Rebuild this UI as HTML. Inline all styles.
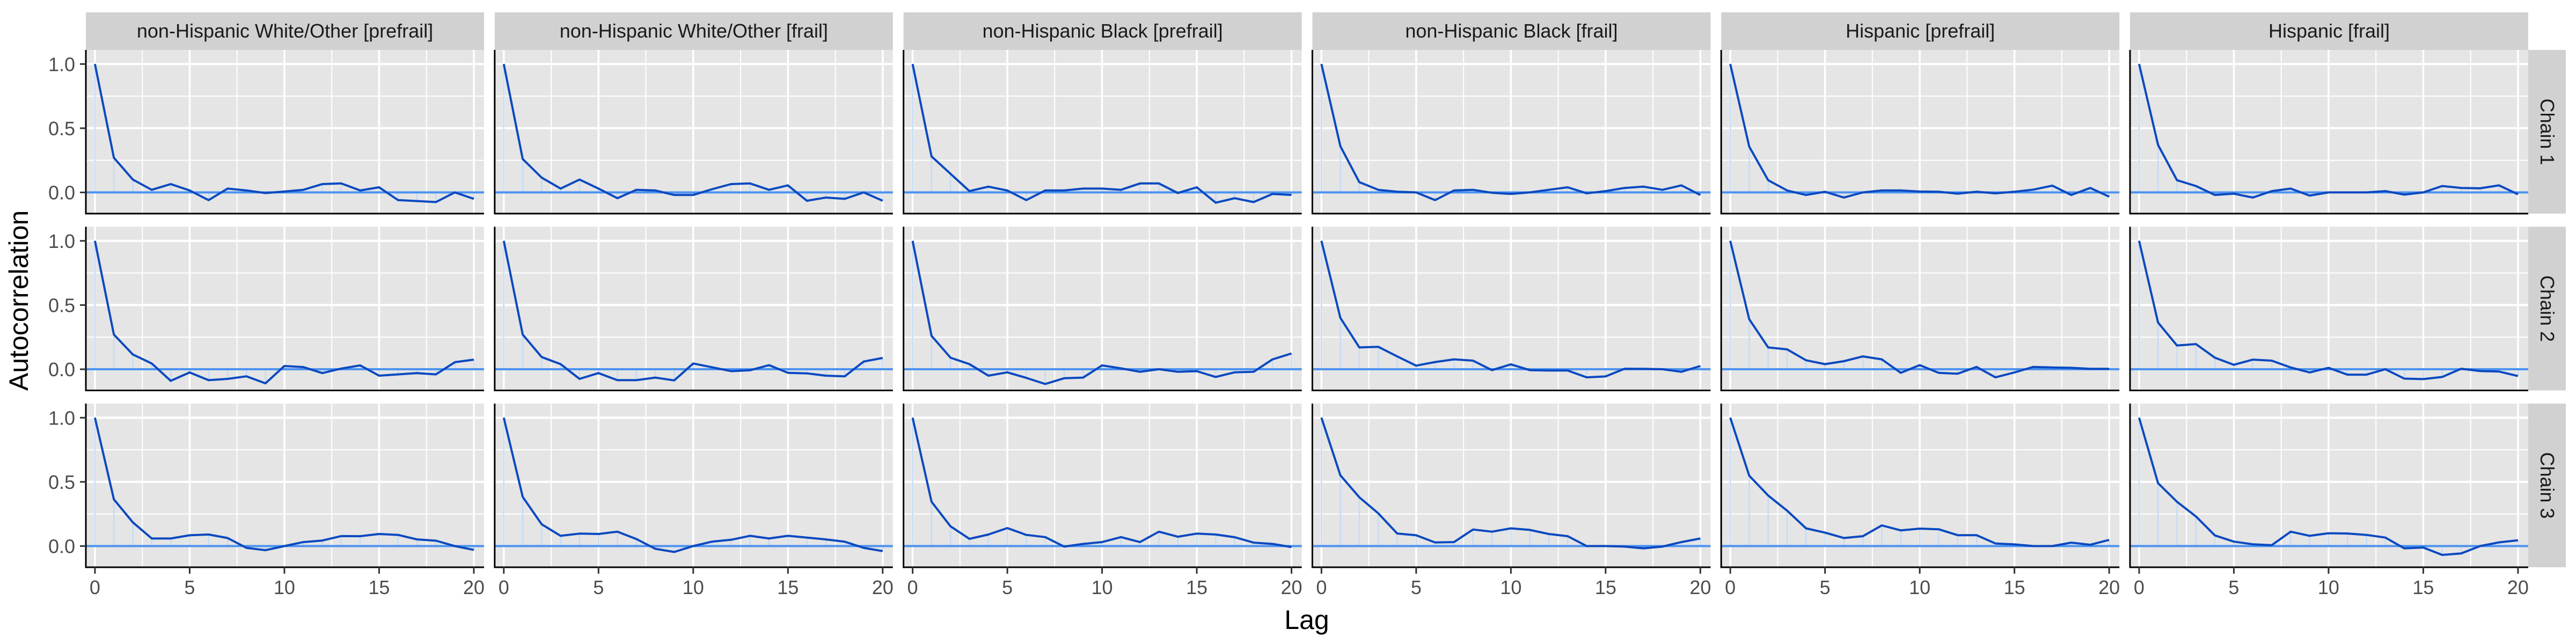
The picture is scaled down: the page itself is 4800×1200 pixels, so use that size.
<!DOCTYPE html>
<html><head><meta charset="utf-8">
<style>
html,body{margin:0;padding:0;background:#fff;}
svg{display:block;font-family:"Liberation Sans",sans-serif;}
</style></head>
<body>
<svg id="chart" width="4800" height="1200" viewBox="0 0 4800 1200" xmlns="http://www.w3.org/2000/svg">
<text x="0" y="0" transform="translate(52,560) rotate(-90)" text-anchor="middle" font-size="50" fill="#000">Autocorrelation</text>
<text x="2435" y="1172" text-anchor="middle" font-size="50" fill="#000">Lag</text>
</svg>
<script>
const colLabels = ["non-Hispanic White/Other [prefrail]","non-Hispanic White/Other [frail]","non-Hispanic Black [prefrail]","non-Hispanic Black [frail]","Hispanic [prefrail]","Hispanic [frail]"];
const rowLabels = ["Chain 1","Chain 2","Chain 3"];
const lags = [0,1,2,3,4,5,6,7,8,9,10,11,12,13,14,15,16,17,18,19,20];
const xTicks = [0,5,10,15,20];
const yTicks = [0,0.5,1.0];
const yTickLabels = ["0.0","0.5","1.0"];

const chain1 = [
 [1,0.27,0.10,0.02,0.065,0.015,-0.06,0.03,0.015,-0.005,0.007,0.02,0.065,0.07,0.015,0.04,-0.06,-0.067,-0.075,0.0,-0.05],
 [1,0.26,0.115,0.03,0.10,0.03,-0.045,0.02,0.015,-0.02,-0.02,0.025,0.065,0.07,0.02,0.055,-0.065,-0.04,-0.05,0,-0.065],
 [1,0.28,0.145,0.01,0.045,0.015,-0.06,0.015,0.015,0.03,0.03,0.02,0.07,0.07,-0.005,0.04,-0.08,-0.045,-0.075,-0.012,-0.02],
 [1,0.36,0.08,0.02,0.005,0,-0.06,0.015,0.02,-0.003,-0.012,0,0.02,0.04,-0.007,0.01,0.035,0.045,0.02,0.055,-0.02],
 [1,0.357,0.095,0.015,-0.02,0.005,-0.04,0,0.015,0.015,0.007,0.005,-0.01,0.005,-0.007,0.005,0.022,0.053,-0.02,0.035,-0.033],
 [1,0.37,0.095,0.05,-0.02,-0.01,-0.04,0.01,0.03,-0.025,0,0,0,0.01,-0.017,0,0.05,0.035,0.032,0.055,-0.015]
];
const chain2 = [
 [1,0.27,0.115,0.045,-0.09,-0.025,-0.085,-0.075,-0.055,-0.11,0.025,0.017,-0.03,0.005,0.03,-0.05,-0.04,-0.03,-0.04,0.055,0.075],
 [1,0.27,0.095,0.04,-0.075,-0.03,-0.085,-0.085,-0.065,-0.087,0.045,0.015,-0.015,-0.008,0.032,-0.028,-0.032,-0.05,-0.055,0.06,0.088],
 [1,0.26,0.09,0.04,-0.05,-0.024,-0.067,-0.115,-0.07,-0.065,0.03,0.007,-0.02,0,-0.02,-0.015,-0.06,-0.024,-0.02,0.077,0.123],
 [1,0.40,0.17,0.175,0.10,0.028,0.056,0.077,0.067,-0.007,0.038,-0.007,-0.01,-0.01,-0.063,-0.056,0.004,0.003,0,-0.02,0.025],
 [1,0.39,0.17,0.155,0.07,0.04,0.063,0.10,0.077,-0.028,0.032,-0.028,-0.035,0.018,-0.063,-0.025,0.018,0.014,0.011,0.003,0.003],
 [1,0.364,0.185,0.196,0.09,0.035,0.075,0.067,0.014,-0.025,0.011,-0.042,-0.042,0,-0.073,-0.077,-0.06,0.004,-0.014,-0.018,-0.053]
];
const chain3 = [
 [1,0.364,0.185,0.059,0.059,0.084,0.09,0.063,-0.014,-0.032,0,0.031,0.043,0.078,0.077,0.094,0.087,0.052,0.042,0,-0.03],
 [1,0.383,0.17,0.08,0.097,0.094,0.112,0.055,-0.021,-0.046,0,0.035,0.049,0.08,0.059,0.08,0.066,0.052,0.034,-0.014,-0.039],
 [1,0.345,0.154,0.056,0.09,0.14,0.087,0.07,-0.004,0.017,0.031,0.07,0.031,0.112,0.073,0.097,0.09,0.069,0.027,0.017,-0.008],
 [1,0.551,0.38,0.255,0.098,0.084,0.028,0.031,0.129,0.112,0.138,0.126,0.094,0.077,0,0,-0.004,-0.018,-0.004,0.031,0.059],
 [1,0.548,0.394,0.276,0.138,0.105,0.063,0.077,0.161,0.122,0.136,0.131,0.085,0.085,0.02,0.013,0,0,0.027,0.01,0.048],
 [1,0.49,0.345,0.231,0.083,0.035,0.014,0.007,0.112,0.08,0.10,0.098,0.087,0.066,-0.018,-0.011,-0.069,-0.057,0,0.029,0.045]
];
const chains = [chain1, chain2, chain3];

const NS = "http://www.w3.org/2000/svg";
const svg = document.getElementById('chart');
const P = {left0:160, pitch:761.8, w:742, top0:93, rpitch:329.5, h:305, stripH:70, stripW:70};
const xMin=-0.48, xMax=20.54, yMin=-0.165, yMax=1.11;
function mk(tag, attrs, parent){const e=document.createElementNS(NS,tag);for(const k in attrs)e.setAttribute(k,attrs[k]);(parent||svg).appendChild(e);return e;}
function xs(c,v){return P.left0+c*P.pitch+(v-xMin)/(xMax-xMin)*P.w;}
function ys(r,v){return P.top0+r*P.rpitch+(yMax-v)/(yMax-yMin)*P.h;}

for(let c=0;c<6;c++){
  const px=P.left0+c*P.pitch;
  const st=mk('rect',{x:px,y:P.top0-P.stripH,width:P.w,height:P.stripH,fill:'#D1D1D1'});
  
  
  const tx=mk('text',{x:px+P.w/2,y:P.top0-P.stripH/2+12,'text-anchor':'middle','font-size':36,fill:'#1A1A1A'});
  tx.textContent=colLabels[c];
  
  
}
for(let r=0;r<3;r++){
  const py=P.top0+r*P.rpitch;
  const sx=P.left0+5*P.pitch+P.w;
  const st=mk('rect',{x:sx,y:py,width:P.stripW,height:P.h,fill:'#D1D1D1'});
  
  
  const tx=mk('text',{x:0,y:0,transform:`translate(${sx+P.stripW/2-12},${py+P.h/2}) rotate(90)`,'text-anchor':'middle','font-size':36,fill:'#1A1A1A'});
  tx.textContent=rowLabels[r];
  
  

  for(let c=0;c<6;c++){
    const px=P.left0+c*P.pitch;
    const g=mk('g',{});
    
    
    mk('rect',{x:px,y:py,width:P.w,height:P.h,fill:'#E5E5E5'},g);
    [0.25,0.75].forEach(v=>mk('line',{x1:px,x2:px+P.w,y1:ys(r,v),y2:ys(r,v),stroke:'#fff','stroke-width':2},g));
    [2.5,7.5,12.5,17.5].forEach(v=>mk('line',{x1:xs(c,v),x2:xs(c,v),y1:py,y2:py+P.h,stroke:'#fff','stroke-width':2},g));
    yTicks.forEach(v=>mk('line',{x1:px,x2:px+P.w,y1:ys(r,v),y2:ys(r,v),stroke:'#fff','stroke-width':4},g));
    xTicks.forEach(v=>mk('line',{x1:xs(c,v),x2:xs(c,v),y1:py,y2:py+P.h,stroke:'#fff','stroke-width':3.5},g));
    const vals=chains[r][c];
    lags.forEach((l,i)=>{
      const s=mk('line',{x1:xs(c,l),x2:xs(c,l),y1:ys(r,0),y2:ys(r,vals[i]),stroke:'#C3DCF8','stroke-width':2.5},g);
      
      
    });
    const z=mk('line',{x1:px,x2:px+P.w,y1:ys(r,0),y2:ys(r,0),stroke:'#4B92F0','stroke-width':4},g);
    
    
    const pts=lags.map((l,i)=>xs(c,l).toFixed(1)+','+ys(r,vals[i]).toFixed(1)).join(' ');
    const pl=mk('polyline',{points:pts,fill:'none',stroke:'#0B49C0','stroke-width':4,'stroke-linejoin':'round'},g);
    
    
    mk('line',{x1:px,x2:px,y1:py,y2:py+P.h+1.5,stroke:'#000','stroke-width':3},g);
    mk('line',{x1:px,x2:px+P.w,y1:py+P.h,y2:py+P.h,stroke:'#000','stroke-width':3},g);
    if(c===0){
      yTicks.forEach((v,i)=>{
        mk('line',{x1:px-11,x2:px,y1:ys(r,v),y2:ys(r,v),stroke:'#333','stroke-width':3},g);
        const t=mk('text',{x:px-20,y:ys(r,v)+13,'text-anchor':'end','font-size':36,fill:'#4D4D4D'},g);
        t.textContent=yTickLabels[i];
        
        
      });
    }
    if(r===2){
      xTicks.forEach(v=>{
        mk('line',{x1:xs(c,v),x2:xs(c,v),y1:py+P.h,y2:py+P.h+12,stroke:'#333','stroke-width':3},g);
        const t=mk('text',{x:xs(c,v),y:py+P.h+50,'text-anchor':'middle','font-size':36,fill:'#4D4D4D'},g);
        t.textContent=String(v);
        
        
      });
    }
  }
}
</script>
</body></html>
